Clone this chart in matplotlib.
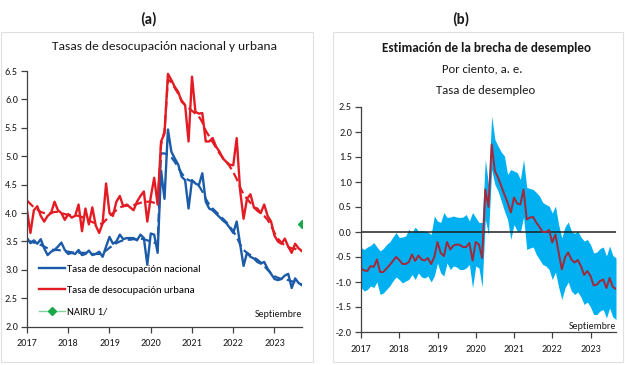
import matplotlib
matplotlib.use("Agg")
import matplotlib.pyplot as plt
from matplotlib.patches import Rectangle
from matplotlib import font_manager as fm
import numpy as np

# ---------------- data ----------------
years = [2017, 2018, 2019, 2020, 2021, 2022, 2023]
n_months = 81  # Jan 2017 .. Sep 2023

nacional = [3.56, 3.47, 3.52, 3.46, 3.54, 3.38, 3.26, 3.32, 3.35, 3.41, 3.48, 3.35,
            3.28, 3.30, 3.28, 3.35, 3.26, 3.28, 3.34, 3.26, 3.28, 3.32, 3.23, 3.41,
            3.58, 3.46, 3.50, 3.62, 3.54, 3.56, 3.56, 3.56, 3.52, 3.62, 3.56, 3.09,
            3.64, 3.62, 3.30, 4.75, 4.25, 5.47, 5.08, 4.96, 4.85, 4.64, 4.58, 4.08,
            4.58, 4.52, 4.49, 4.70, 4.20, 4.08, 4.05, 3.99, 3.93, 3.87, 3.82, 3.74,
            3.65, 3.85, 3.45, 3.07, 3.30, 3.23, 3.20, 3.14, 3.11, 3.14, 3.02, 2.93,
            2.84, 2.82, 2.84, 2.90, 2.93, 2.68, 2.85, 2.77, 2.73]
nacional_tend = [3.52, 3.50, 3.48, 3.46, 3.44, 3.41, 3.38, 3.36, 3.35, 3.35, 3.34, 3.33,
                 3.32, 3.31, 3.30, 3.30, 3.30, 3.30, 3.29, 3.28, 3.28, 3.28, 3.30, 3.34,
                 3.39, 3.43, 3.47, 3.50, 3.52, 3.53, 3.53, 3.54, 3.54, 3.55, 3.54, 3.52,
                 3.50, 3.48, 3.45, 5.05, 5.05, 5.02, 4.98, 4.90, 4.80, 4.70, 4.62, 4.58,
                 4.56, 4.53, 4.48, 4.38, 4.25, 4.15, 4.08, 4.02, 3.96, 3.90, 3.84, 3.76,
                 3.68, 3.58, 3.45, 3.35, 3.30, 3.26, 3.22, 3.18, 3.13, 3.07, 3.00, 2.94,
                 2.89, 2.86, 2.84, 2.83, 2.82, 2.80, 2.78, 2.76, 2.74]
urbana = [4.05, 3.65, 4.05, 4.12, 3.95, 3.85, 3.95, 4.00, 4.20, 4.05, 4.00, 3.88,
          3.98, 3.92, 3.95, 4.15, 3.68, 4.08, 3.80, 4.10, 3.78, 3.65, 3.82, 4.52,
          4.00, 3.95, 4.20, 4.30, 4.12, 4.15, 4.10, 4.05, 4.20, 4.30, 4.38, 3.85,
          4.28, 4.62, 4.15, 5.26, 5.40, 6.45, 6.34, 6.22, 6.13, 5.96, 5.90, 5.26,
          6.40, 5.78, 5.75, 5.76, 5.26, 5.26, 5.32, 5.17, 5.08, 4.96, 4.90, 4.85,
          4.84, 5.32, 4.40, 3.90, 4.25, 4.33, 4.10, 4.08, 4.00, 4.15, 3.95, 3.85,
          3.60, 3.50, 3.46, 3.55, 3.41, 3.30, 3.46, 3.38, 3.33]
urbana_tend = [4.22, 4.16, 4.10, 4.06, 4.02, 4.00, 3.99, 4.00, 4.02, 4.02, 4.00, 3.98,
               3.97, 3.96, 3.96, 3.95, 3.93, 3.90, 3.87, 3.84, 3.82, 3.80, 3.82, 3.88,
               3.95, 4.00, 4.05, 4.10, 4.12, 4.13, 4.13, 4.14, 4.16, 4.18, 4.20, 4.20,
               4.20, 4.18, 4.15, 5.20, 5.45, 6.35, 6.30, 6.20, 6.10, 5.98, 5.90, 5.85,
               5.80, 5.75, 5.70, 5.60, 5.45, 5.35, 5.25, 5.15, 5.05, 4.97, 4.90, 4.82,
               4.72, 4.60, 4.45, 4.33, 4.25, 4.18, 4.10, 4.04, 4.00, 3.95, 3.88, 3.78,
               3.65, 3.55, 3.48, 3.43, 3.40, 3.38, 3.37, 3.35, 3.33]
nairu = 3.8

brecha = [-0.73, -0.77, -0.78, -0.68, -0.70, -0.55, -0.80, -0.80, -0.73, -0.66, -0.58, -0.50,
          -0.56, -0.64, -0.64, -0.60, -0.45, -0.58, -0.47, -0.55, -0.57, -0.52, -0.64, -0.50,
          -0.20, -0.42, -0.48, -0.20, -0.35, -0.27, -0.25, -0.26, -0.30, -0.30, -0.22, -0.57,
          -0.20, -0.25, -0.52, 0.85, 0.50, 1.75, 1.22, 1.09, 0.92, 0.75, 0.59, 0.39,
          0.69, 0.57, 0.55, 0.85, 0.25, 0.29, 0.30, 0.19, 0.10, 0.00, 0.00, 0.04,
          -0.21, -0.05, -0.41, -0.75, -0.51, -0.41, -0.55, -0.61, -0.56, -0.68, -0.86, -0.78,
          -0.88, -1.07, -1.05, -0.98, -0.95, -1.12, -0.92, -1.10, -1.14]
banda_sup = [-0.31, -0.35, -0.30, -0.27, -0.21, -0.30, -0.38, -0.33, -0.25, -0.20, -0.10, -0.01,
             -0.11, -0.10, -0.08, 0.05, -0.01, 0.10, 0.02, 0.03, 0.02, 0.00, -0.05, 0.32,
             0.22, 0.19, 0.39, 0.29, 0.30, 0.32, 0.30, 0.29, 0.30, 0.35, 0.22, 0.39,
             0.29, 0.19, 0.19, 1.45, 0.95, 2.32, 1.85, 1.72, 1.60, 1.52, 1.15, 1.25,
             1.22, 1.19, 1.05, 1.45, 0.89, 0.87, 0.85, 0.79, 0.72, 0.59, 0.55, 0.52,
             0.38, 0.52, 0.15, -0.12, 0.10, 0.20, 0.02, -0.03, 0.02, -0.10, -0.18, -0.15,
             -0.25, -0.42, -0.40, -0.33, -0.30, -0.48, -0.28, -0.47, -0.52]
banda_inf = [-1.11, -1.18, -1.15, -1.08, -1.11, -1.00, -1.25, -1.22, -1.15, -1.08, -0.98, -0.90,
             -0.95, -1.02, -0.98, -0.95, -0.85, -0.95, -0.82, -0.90, -0.92, -0.88, -1.00, -0.88,
             -0.62, -0.82, -0.88, -0.62, -0.75, -0.68, -0.70, -0.75, -0.75, -0.72, -0.65, -1.12,
             -0.68, -0.72, -1.10, 0.25, -0.05, 1.25, 0.95, 0.82, 0.62, 0.42, 0.25, -0.15,
             0.15, 0.02, 0.00, 0.30, -0.35, -0.32, -0.30, -0.45, -0.55, -0.65, -0.68, -0.75,
             -0.95, -0.80, -1.10, -1.35, -1.12, -1.00, -1.18, -1.25, -1.20, -1.30, -1.45, -1.40,
             -1.50, -1.65, -1.65, -1.58, -1.55, -1.72, -1.52, -1.70, -1.75]

t = 2017 + np.arange(n_months) / 12.0

# ---------------- fonts ----------------
installed = {f.name for f in fm.fontManager.ttflist}
font = "DejaVu Sans"
for cand in ["Liberation Sans Narrow", "Carlito", "Lato", "Open Sans"]:
    if cand in installed:
        font = cand
        break
plt.rcParams["font.family"] = [font, "DejaVu Sans"]

# ---------------- style ----------------
BLUE = "#1c5ba8"
RED = "#e31b23"
DRED = "#a3283a"
BAND = "#00b0f0"
GREEN = "#1aa84a"
AXC = "#404040"
TXT = "#1a1a1a"
GROW = 1.15

fig = plt.figure(figsize=(6.25, 3.65), dpi=100)
W, H = 625.0, 365.0
renderer = fig.canvas.get_renderer()

def fx(px):
    return px / W

def fy(py):
    return 1 - py / H

def size_for(sample, target_px, weight="normal", grow=GROW):
    tmp = fig.text(0, 0, sample, fontsize=10, fontweight=weight)
    bb = tmp.get_window_extent(renderer)
    tmp.remove()
    return 10 * grow * target_px / bb.width

# panel frames
for (x0, y0, x1, y1) in [(1, 32, 313, 362), (333, 32, 623, 362)]:
    fig.patches.append(Rectangle((fx(x0), fy(y1)), fx(x1 - x0), (y1 - y0) / H,
                                 transform=fig.transFigure, fill=False,
                                 edgecolor="#e0e0e0", linewidth=0.8))

lab_size = size_for("(a)", 16, "bold", 1.05)
fig.text(fx(148), fy(19), "(a)", ha="center", va="center", fontsize=lab_size,
         fontweight="bold", color=TXT)
fig.text(fx(461), fy(19), "(b)", ha="center", va="center", fontsize=lab_size,
         fontweight="bold", color=TXT)

tick_size = size_for("2017", 18)
leg_size = size_for("Tasa de desocupación nacional", 117)
sep_size = size_for("Septiembre", 41)
title_a = size_for("Tasas de desocupación nacional y urbana", 195)
title_b = size_for("Estimación de la brecha de desempleo", 182, "bold")
sub_b = size_for("Tasa de desempleo", 86)

def style_axes(ax):
    for s in ["top", "right"]:
        ax.spines[s].set_visible(False)
    for s in ["left", "bottom"]:
        ax.spines[s].set_color(AXC)
        ax.spines[s].set_linewidth(0.9)
    ax.tick_params(axis="both", colors=AXC, labelcolor=TXT, labelsize=tick_size,
                   length=4, width=0.9, direction="out")
    ax.set_xlim(2017, 2017 + (n_months - 1) / 12.0)
    ax.set_xticks(years)
    ax.set_xticklabels([str(y) for y in years])
    ax.tick_params(axis="x", pad=5)
    ax.tick_params(axis="y", pad=2.5)
    ax.patch.set_alpha(0)

# ---------------- panel (a) ----------------
axa = fig.add_axes([fx(27), fy(326.7), fx(275), 255.7 / H])
style_axes(axa)
axa.set_ylim(2.0, 6.5)
axa.set_yticks(np.arange(2.0, 6.51, 0.5))
axa.set_yticklabels([f"{v:.1f}" for v in np.arange(2.0, 6.51, 0.5)])

axa.plot(t, nacional_tend, color=BLUE, lw=1.6, ls=(0, (4, 2)))
axa.plot(t, urbana_tend, color=RED, lw=1.6, ls=(0, (4, 2)))
l1, = axa.plot(t, nacional, color=BLUE, lw=1.7, label="Tasa de desocupación nacional")
l2, = axa.plot(t, urbana, color=RED, lw=1.7, label="Tasa de desocupación urbana")
l3, = axa.plot([t[-1]], [nairu], color="#7fd39a", marker="D", markersize=4,
               markerfacecolor=GREEN, markeredgecolor=GREEN, lw=1.0, ls="-",
               label="NAIRU 1/")
leg_px = leg_size * 100 / 72.0
axa.legend(handles=[l1, l2, l3], loc="lower left", bbox_to_anchor=(0.025, 0.02),
           frameon=False, fontsize=leg_size, handlelength=26 / leg_px,
           labelspacing=(22.5 - leg_px) / leg_px,
           borderpad=0, handletextpad=2 / leg_px)
axa.text(1.0, 0.03, "Septiembre", transform=axa.transAxes, ha="right", va="bottom",
         fontsize=sep_size, color=TXT)
fig.text(fx(164), fy(47), "Tasas de desocupación nacional y urbana", ha="center",
         va="center", fontsize=title_a, color=TXT)

# ---------------- panel (b) ----------------
axb = fig.add_axes([fx(361), fy(332), fx(255), 225 / H])
style_axes(axb)
axb.set_ylim(-2.0, 2.5)
axb.set_yticks(np.arange(-2.0, 2.51, 0.5))
axb.set_yticklabels([f"{v:.1f}" for v in np.arange(-2.0, 2.51, 0.5)])
axb.fill_between(t, banda_inf, banda_sup, color=BAND, lw=0)
axb.axhline(0, color="#202020", lw=1.1)
axb.plot(t, brecha, color=DRED, lw=1.4)
axb.text(1.0, 0.005, "Septiembre", transform=axb.transAxes, ha="right", va="bottom",
         fontsize=sep_size, color=TXT)
fig.text(fx(486), fy(48), "Estimación de la brecha de desempleo", ha="center",
         va="center", fontsize=title_b, fontweight="bold", color=TXT)
fig.text(fx(482), fy(69), "Por ciento, a. e.", ha="center", va="center",
         fontsize=sub_b, color=TXT)
fig.text(fx(486), fy(90), "Tasa de desempleo", ha="center", va="center",
         fontsize=sub_b, color=TXT)

fig.savefig("out.png", dpi=100)
